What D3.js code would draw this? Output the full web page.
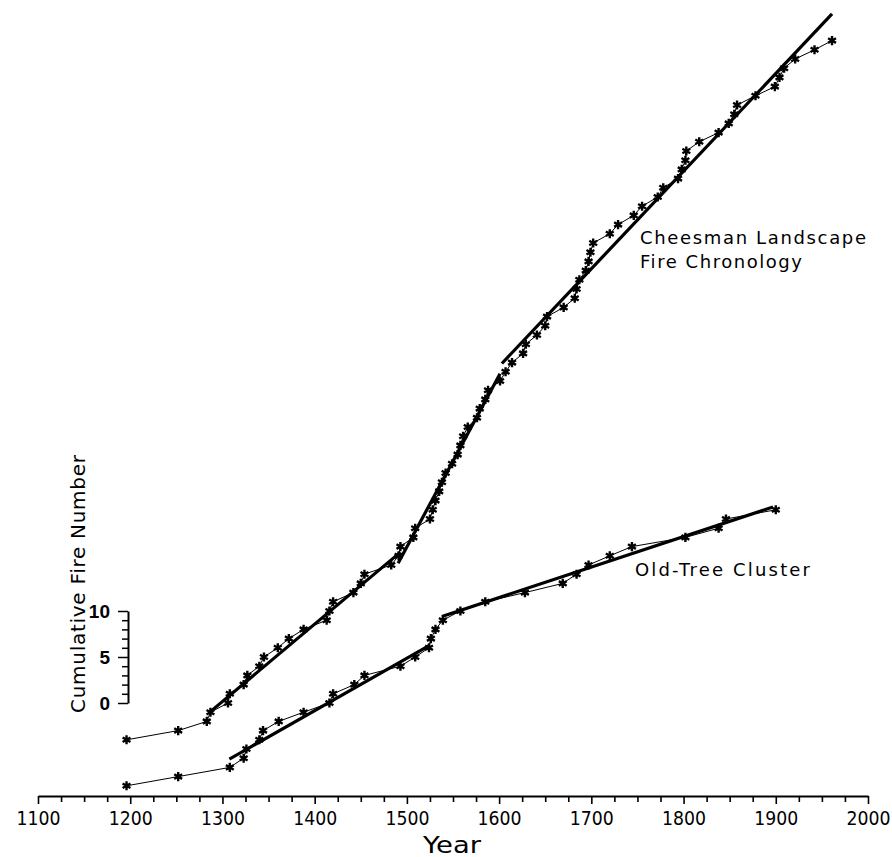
<!DOCTYPE html>
<html>
<head>
<meta charset="utf-8">
<script src="https://cdn.jsdelivr.net/npm/d3@7"></script>
<style>
  html, body { margin: 0; padding: 0; background: #fff; }
  svg { display: block; }
  text { font-family: "DejaVu Sans", sans-serif; fill: #000; }
</style>
</head>
<body>
<script>
// ---- data ----
// Fire years (each point is one more fire: cumulative count rises by 1)
const cheesmanYears = [1196, 1252, 1283, 1287, 1306, 1308, 1323, 1327, 1340, 1345, 1360, 1372, 1388,
  1413, 1416, 1420, 1442, 1450, 1454, 1483, 1491, 1493, 1507, 1509, 1525, 1528, 1531, 1535, 1538,
  1542, 1549, 1555, 1558, 1561, 1566, 1576, 1579, 1585, 1588, 1601, 1607, 1614, 1626, 1629, 1641,
  1650, 1652, 1670, 1682, 1684, 1687, 1694, 1697, 1699, 1702, 1720, 1729, 1746, 1755, 1772, 1778,
  1794, 1798, 1802, 1803, 1817, 1838, 1849, 1855, 1858, 1878, 1899, 1904, 1909, 1921, 1942, 1961];
const cheesmanStartCount = -4;

const oldTreeYears = [1196, 1252, 1308, 1323, 1326, 1340, 1344, 1361, 1388, 1416, 1420, 1443, 1454,
  1493, 1509, 1524, 1526, 1531, 1539, 1558, 1585, 1628, 1669, 1684, 1697, 1720, 1744, 1802, 1838,
  1846, 1900];
const oldTreeStartCount = -9;

// fitted line segments: [yearStart, countStart, yearEnd, countEnd]
const cheesmanFits = [[1285, -1.1, 1493, 16.4], [1490.5, 15.2, 1601, 35.8], [1603, 36.9, 1961, 74.9]];
const oldTreeFits = [[1307.5, -6.1, 1525, 6.3], [1538, 9.4, 1897, 21.3]];

const xTicks = [1100, 1125, 1150, 1175, 1200, 1225, 1250, 1275, 1300, 1325, 1350, 1375, 1400, 1425,
  1450, 1475, 1500, 1525, 1550, 1575, 1600, 1625, 1650, 1675, 1700, 1725, 1750, 1775, 1800, 1825,
  1850, 1875, 1900, 1925, 1950, 1975, 2000];
const xTickLabels = [1100, 1200, 1300, 1400, 1500, 1600, 1700, 1800, 1900, 2000];
const yTicks = [0, 1, 2, 3, 4, 5, 6, 7, 8, 9, 10];
const yTickLabels = [0, 5, 10];

// ---- drawing ----
const W = 892, H = 857;
const svg = d3.select("body").append("svg").attr("width", W).attr("height", H);

const x = d3.scaleLinear().domain([1100, 2000]).range([38, 868]);
const y = d3.scaleLinear().domain([0, 10]).range([703, 611]);

// x axis
const xAxis = d3.axisBottom(x)
  .tickValues(xTicks)
  .tickSize(6)
  .tickSizeOuter(0)
  .tickPadding(8)
  .tickFormat(d => xTickLabels.includes(d) ? d : "");
const gx = svg.append("g").attr("transform", "translate(0,796)").call(xAxis);
gx.select(".domain").attr("stroke-width", 2.2);
gx.selectAll(".tick line").attr("stroke-width", 1.6)
  .attr("y2", d => xTickLabels.includes(d) ? 8 : 6);
gx.selectAll(".tick text")
  .filter(d => xTickLabels.includes(d))
  .style("font-size", "18px").style("font-family", "DejaVu Sans")
  .attr("transform", "scale(1,1.1)")
  .attr("textLength", 44).attr("lengthAdjust", "spacingAndGlyphs");

svg.append("text").attr("x", 423).attr("y", 853)
  .attr("textLength", 58).attr("lengthAdjust", "spacingAndGlyphs")
  .style("font-size", "23px").text("Year");

// y scale bar
const yAxis = d3.axisLeft(y)
  .tickValues(yTicks)
  .tickSize(6)
  .tickSizeOuter(0)
  .tickPadding(12)
  .tickFormat(d => yTickLabels.includes(d) ? d : "");
const gy = svg.append("g").attr("transform", "translate(128,0)").call(yAxis);
gy.select(".domain").attr("stroke-width", 2);
gy.selectAll(".tick line").attr("stroke-width", 1.5)
  .attr("x2", d => yTickLabels.includes(d) ? -10 : -6);
gy.selectAll(".tick text")
  .style("font-family", "Liberation Sans, Arial, sans-serif")
  .style("font-weight", "bold").style("font-size", "19px");

svg.append("text")
  .attr("transform", "translate(85,584) rotate(-90)")
  .attr("text-anchor", "middle")
  .attr("textLength", 258).attr("lengthAdjust", "spacing")
  .style("font-size", "20px")
  .text("Cumulative Fire Number");

// series
const line = d3.line().x(d => x(d.year)).y(d => y(d.count));
const star = d3.symbol().type(d3.symbolAsterisk).size(58);

function drawSeries(years, startCount, fits) {
  const pts = years.map((yr, i) => ({ year: yr, count: startCount + i }));
  svg.append("path").datum(pts).attr("d", line)
    .attr("fill", "none").attr("stroke", "#000").attr("stroke-width", 1);
  fits.forEach(f => {
    svg.append("line")
      .attr("x1", x(f[0])).attr("y1", y(f[1]))
      .attr("x2", x(f[2])).attr("y2", y(f[3]))
      .attr("stroke", "#000").attr("stroke-width", 3.2).attr("stroke-linecap", "butt");
  });
  const g = svg.append("g");
  g.selectAll("path").data(pts).join("path")
    .attr("transform", d => `translate(${x(d.year)},${y(d.count)})`)
    .attr("d", star)
    .attr("fill", "none").attr("stroke", "#000").attr("stroke-width", 2.4);
  g.selectAll("circle").data(pts).join("circle")
    .attr("cx", d => x(d.year)).attr("cy", d => y(d.count)).attr("r", 2)
    .attr("fill", "#000");
}
drawSeries(cheesmanYears, cheesmanStartCount, cheesmanFits);
drawSeries(oldTreeYears, oldTreeStartCount, oldTreeFits);

// annotations
svg.append("text").attr("x", 640).attr("y", 244)
  .attr("textLength", 226).attr("lengthAdjust", "spacing")
  .style("font-size", "18px").text("Cheesman Landscape");
svg.append("text").attr("x", 640).attr("y", 268)
  .attr("textLength", 162).attr("lengthAdjust", "spacing")
  .style("font-size", "18px").text("Fire Chronology");
svg.append("text").attr("x", 635).attr("y", 576)
  .attr("textLength", 175).attr("lengthAdjust", "spacing")
  .style("font-size", "18px").text("Old-Tree Cluster");
</script>
</body>
</html>
